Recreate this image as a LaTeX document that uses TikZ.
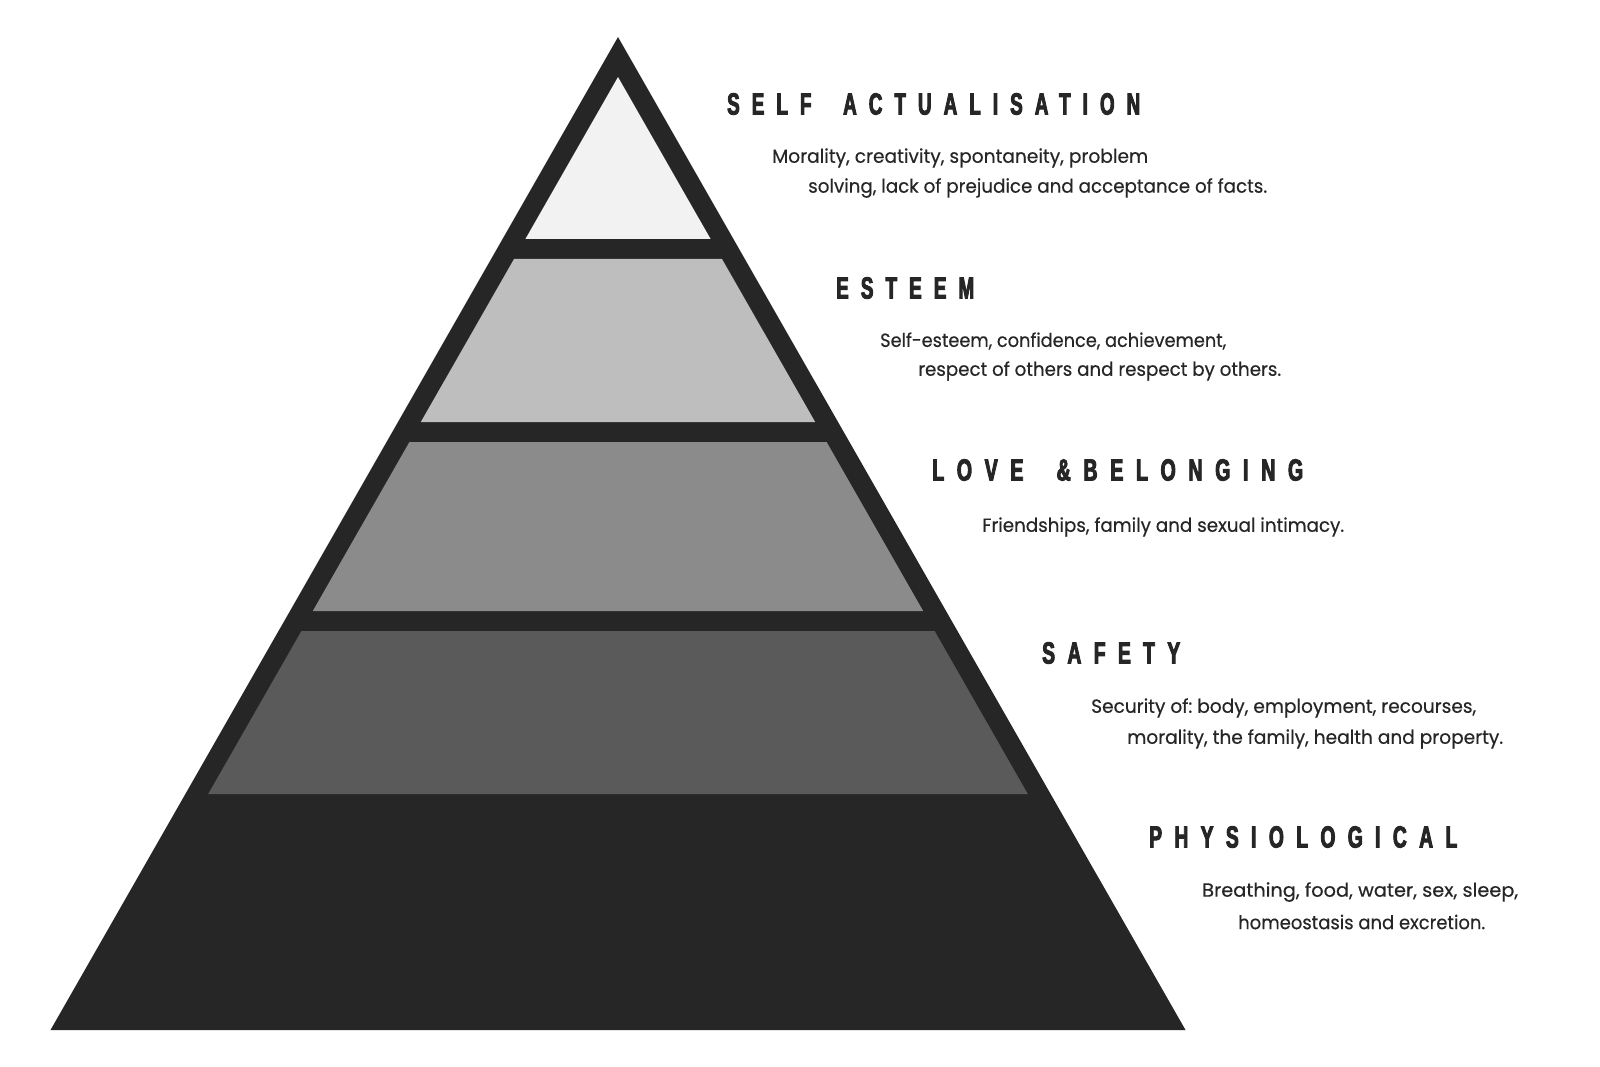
\documentclass[tikz,border=0pt]{standalone}
\usepackage{fontspec}
\usepackage{graphicx}
\setmainfont{Poppins}
\newfontfamily\headfont[FakeStretch=0.62,LetterSpace=40,FakeBold=3]{Liberation Sans}
\newfontfamily\bodyfont[FakeBold=0.4]{Poppins}
\definecolor{pyrdark}{HTML}{262626}
\definecolor{lvself}{HTML}{F2F2F2}
\definecolor{lvesteem}{HTML}{BEBEBE}
\definecolor{lvlove}{HTML}{8B8B8B}
\definecolor{lvsafety}{HTML}{5A5A5A}
\newcommand{\fitto}[2]{\resizebox{#1pt}{\height}{#2}}
\newcommand{\wordgap}{\hspace{32pt}}
\tikzset{
  headlbl/.style={anchor=west, inner sep=0pt, text=pyrdark, font=\headfont\bfseries\fontsize{30.5}{30.5}\selectfont},
  bodylbl/.style={anchor=west, inner sep=0pt, text=pyrdark, font=\bodyfont\frenchspacing\fontsize{19}{19}\selectfont},
}
\begin{document}
\begin{tikzpicture}[x=1pt,y=-1pt]
\useasboundingbox (0,0) rectangle (1600,1067);
% outer pyramid
\fill[pyrdark] (618,37) -- (50.5,1030) -- (1185.5,1030) -- cycle;
% levels
\fill[lvself] (618,77) -- (525.4,239) -- (710.6,239) -- cycle;
\fill[lvesteem] (514,259) -- (722,259) -- (815.2,422) -- (420.8,422) -- cycle;
\fill[lvlove] (409.4,442) -- (826.6,442) -- (923.2,611) -- (312.8,611) -- cycle;
\fill[lvsafety] (301.4,631) -- (934.6,631) -- (1027.8,794) -- (208.2,794) -- cycle;
% headings
\node[headlbl] (hSelf) at (727,104) {\fitto{413}{SELF\wordgap ACTUALISATION}};
\node[headlbl] (hEsteem) at (836,288) {\fitto{138}{ESTEEM}};
\node[headlbl] (hLove) at (932,470) {\fitto{371}{LOVE\wordgap\&BELONGING}};
\node[headlbl] (hSafety) at (1042,653) {\fitto{138}{SAFETY}};
\node[headlbl] (hPhys) at (1149,837) {\fitto{308}{PHYSIOLOGICAL}};
% descriptions
\node[bodylbl] (bSelfA) at (772,158) {\fitto{376}{Morality, creativity, spontaneity, problem}};
\node[bodylbl] (bSelfB) at (808,188) {\fitto{459}{solving, lack of prejudice and acceptance of facts.}};
\node[bodylbl] (bEstA) at (880,341) {\fitto{346}{Self-esteem, confidence, achievement,}};
\node[bodylbl] (bEstB) at (918,371) {\fitto{363}{respect of others and respect by others.}};
\node[bodylbl] (bLove) at (982,527) {\fitto{362}{Friendships, family and sexual intimacy.}};
\node[bodylbl] (bSafA) at (1091,708) {\fitto{385}{Security of: body, employment, recourses,}};
\node[bodylbl] (bSafB) at (1127,739) {\fitto{376}{morality, the family, health and property.}};
\node[bodylbl] (bPhysA) at (1202,892) {\fitto{316}{Breathing, food, water, sex, sleep,}};
\node[bodylbl] (bPhysB) at (1238,922) {\fitto{247}{homeostasis and excretion.}};
\end{tikzpicture}
\end{document}
